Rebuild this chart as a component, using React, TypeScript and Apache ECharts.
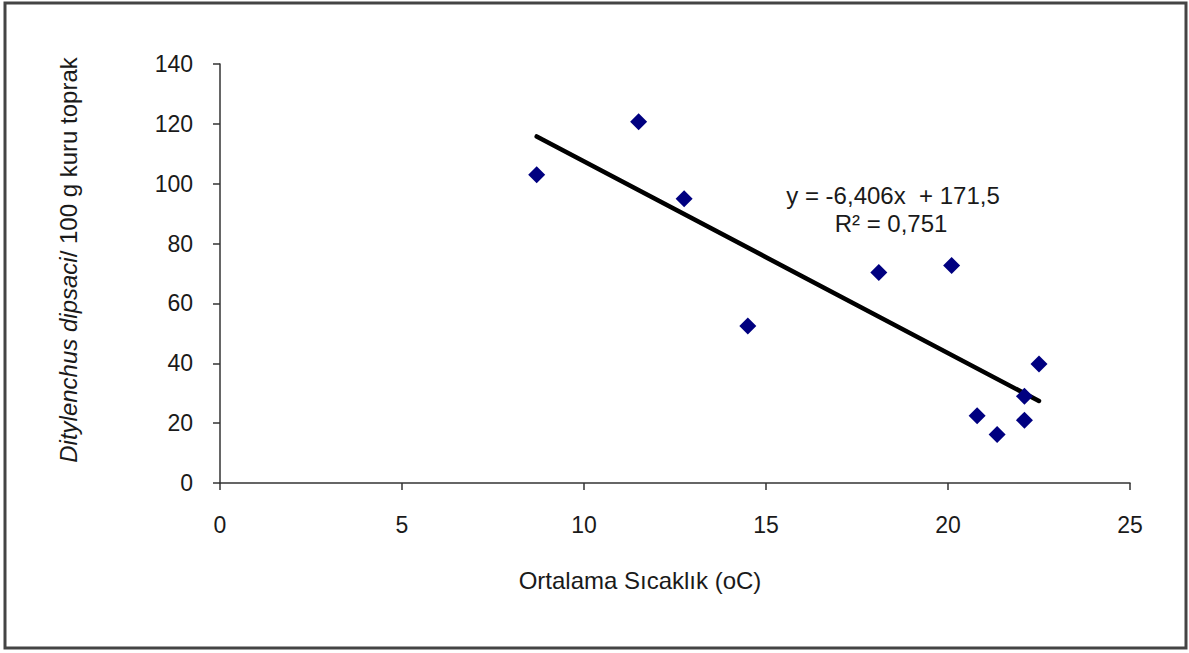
import React, { useEffect, useRef } from "react";
import * as echarts from "echarts";

const temperature = [8.7, 11.5, 12.75, 14.5, 18.1, 20.1, 20.8, 21.35, 22.1, 22.1, 22.5];
const nematodes = [103, 120.7, 95, 52.5, 70.3, 72.7, 22.5, 16.2, 29, 21, 39.8];
const trendX = [8.7, 22.5];
const trendY = [115.8, 27.4];
const xTicks = [0, 25, 5];
const yTicks = [0, 140, 20];
const equationText = "y = -6,406x  + 171,5";
const r2Text = "R² = 0,751";
const xName = "Ortalama Sıcaklık (oC)";

const FONT = "Liberation Sans, Arial, sans-serif";
const TXT = "#1a1a1a";

export default function App() {
  const ref = useRef<HTMLDivElement>(null);
  useEffect(() => {
    if (!ref.current) return;
    const chart = echarts.init(ref.current, null, { renderer: "svg" });
    const points = temperature.map((t, i) => [t, nematodes[i]]);
    const trend = trendX.map((x, i) => [x, trendY[i]]);
    chart.setOption({
      animation: false,
      backgroundColor: "#fff",
      grid: { left: 220, right: 59, top: 64, bottom: 170 },
      xAxis: {
        type: "value",
        min: xTicks[0],
        max: xTicks[1],
        interval: xTicks[2],
        splitLine: { show: false },
        axisLine: { show: true, onZero: false, lineStyle: { color: "#333", width: 1.5 } },
        axisTick: { show: true, inside: false, length: 7, lineStyle: { color: "#333", width: 1.5 } },
        axisLabel: { color: TXT, fontFamily: FONT, fontSize: 23, margin: 30 },
      },
      yAxis: {
        type: "value",
        min: yTicks[0],
        max: yTicks[1],
        interval: yTicks[2],
        splitLine: { show: false },
        axisLine: { show: true, onZero: false, lineStyle: { color: "#333", width: 1.5 } },
        axisTick: { show: true, inside: false, length: 7, lineStyle: { color: "#333", width: 1.5 } },
        axisLabel: { color: TXT, fontFamily: FONT, fontSize: 23, margin: 27 },
      },
      series: [
        {
          type: "line",
          data: trend,
          showSymbol: false,
          symbol: "none",
          lineStyle: { color: "#000", width: 4.5, cap: "round" },
          z: 2,
        },
        {
          type: "scatter",
          data: points,
          symbol: "diamond",
          symbolSize: 17,
          itemStyle: { color: "#000080", opacity: 1 },
          z: 3,
        },
      ],
      graphic: [
        {
          type: "rect",
          shape: { x: 5, y: 3, width: 1181, height: 645 },
          style: { fill: "none", stroke: "#444", lineWidth: 3 },
          silent: true,
        },
        {
          type: "text",
          x: 893,
          y: 195,
          style: {
            text: equationText,
            fontFamily: FONT,
            fontSize: 24,
            fill: TXT,
            align: "center",
            verticalAlign: "middle",
          },
        },
        {
          type: "text",
          x: 891,
          y: 223,
          style: {
            text: r2Text,
            fontFamily: FONT,
            fontSize: 24,
            fill: TXT,
            align: "center",
            verticalAlign: "middle",
          },
        },
        {
          type: "text",
          x: 640,
          y: 580,
          style: {
            text: xName,
            fontFamily: FONT,
            fontSize: 24,
            fill: TXT,
            align: "center",
            verticalAlign: "middle",
          },
        },
        {
          type: "text",
          x: 68,
          y: 260,
          rotation: Math.PI / 2,
          style: {
            text: "{i|Ditylenchus dipsaci}{n|/ 100 g kuru toprak}",
            align: "center",
            verticalAlign: "middle",
            rich: {
              i: { fontFamily: FONT, fontSize: 24, fontStyle: "italic", fill: TXT },
              n: { fontFamily: FONT, fontSize: 24, fill: TXT },
            },
          },
        },
      ],
    });
    return () => chart.dispose();
  }, []);
  return (
    <div
      ref={ref}
      style={{ position: "fixed", left: 0, top: 0, width: 1189, height: 653, background: "#fff" }}
    />
  );
}
